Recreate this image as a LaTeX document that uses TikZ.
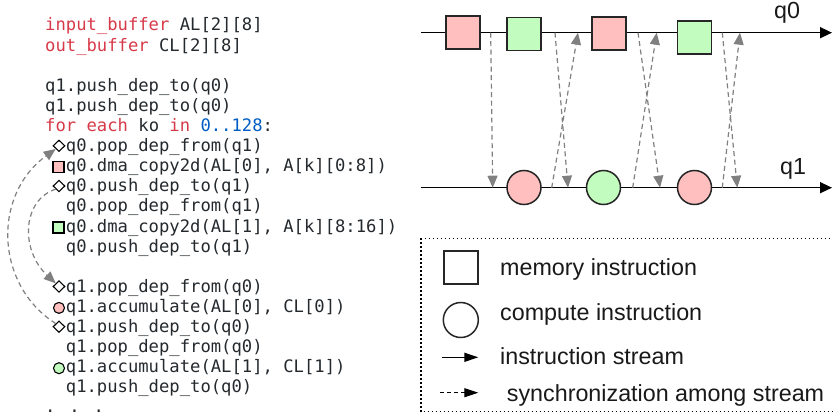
\documentclass[tikz,border=0pt]{standalone}
\usepackage{fontspec}
\setmainfont{Liberation Sans}
\newfontfamily\codefont{DejaVu Sans Mono}
\usetikzlibrary{ arrows.meta
               , positioning
               , shapes.geometric
               }
\definecolor{memPink}{RGB}{255,191,191}
\definecolor{memGreen}{RGB}{194,252,190}
\definecolor{kwRed}{RGB}{215,58,73}
\definecolor{numBlue}{RGB}{0,92,197}
\definecolor{codeInk}{RGB}{36,41,46}
\definecolor{syncGray}{RGB}{128,128,128}

\begin{document}
\begin{tikzpicture}
      [ x=1pt, y=-1pt
      , code/.style={anchor=base west, inner sep=0pt, text=codeInk, font=\codefont\fontsize{17.2}{20}\selectfont}
      , txt/.style={inner sep=0pt, text=black!90, font=\fontsize{23.3}{28}\selectfont}
      , stream/.style={black, draw, line width=1.5pt, -{Triangle[length=12pt, width=11pt]}}
      , sync/.style={syncGray, draw, line width=1.2pt, dash pattern=on 5pt off 3.5pt, -{Triangle[length=12pt, width=10pt]}}
      , mem/.style={draw=black!85, line width=1.5pt, minimum width=34pt, minimum height=33pt, inner sep=0pt}
      , comp/.style={circle, draw=black!85, line width=1.5pt, minimum size=34pt, inner sep=0pt}
      , tag/.style={diamond, draw=black, line width=1.1pt, minimum width=12pt, minimum height=11.5pt, inner sep=0pt}
      , smem/.style={draw=black, line width=1.1pt, minimum size=11pt, inner sep=0pt}
      , scomp/.style={circle, draw=black, line width=1.1pt, minimum size=11pt, inner sep=0pt}
      ]
    \useasboundingbox (0,0) rectangle (833,417);

    \node[code] (l1)  at (45,31.0)  {\textcolor{kwRed}{input\_buffer} AL[2][8]};
    \node[code] (l2)  at (45,51.1)  {\textcolor{kwRed}{out\_buffer} CL[2][8]};
    \node[code] (l4)  at (45,91.3)  {q1.push\_dep\_to(q0)};
    \node[code] (l5)  at (45,111.4) {q1.push\_dep\_to(q0)};
    \node[code] (l6)  at (45,131.5) {\textcolor{kwRed}{for each} ko \textcolor{kwRed}{in} \textcolor{numBlue}{0..128}:};
    \node[code] (l7)  at (65.7,151.6) {q0.pop\_dep\_from(q1)};
    \node[code] (l8)  at (65.7,171.7) {q0.dma\_copy2d(AL[0], A[k][0:8])};
    \node[code] (l9)  at (65.7,191.8) {q0.push\_dep\_to(q1)};
    \node[code] (l10) at (65.7,211.9) {q0.pop\_dep\_from(q1)};
    \node[code] (l11) at (65.7,232.0) {q0.dma\_copy2d(AL[1], A[k][8:16])};
    \node[code] (l12) at (65.7,252.1) {q0.push\_dep\_to(q1)};
    \node[code] (l14) at (65.7,292.3) {q1.pop\_dep\_from(q0)};
    \node[code] (l15) at (65.7,312.4) {q1.accumulate(AL[0], CL[0])};
    \node[code] (l16) at (65.7,332.5) {q1.push\_dep\_to(q0)};
    \node[code] (l17) at (65.7,352.6) {q1.pop\_dep\_from(q0)};
    \node[code] (l18) at (65.7,372.7) {q1.accumulate(AL[1], CL[1])};
    \node[code] (l19) at (65.7,392.8) {q1.push\_dep\_to(q0)};
    \node[code] (l20) at (45,412.9) {. . .};

    \node[tag] (t1) at (59,145.8) {};
    \node[tag] (t2) at (59,186.0) {};
    \node[tag] (t3) at (59,286.5) {};
    \node[tag] (t4) at (59,326.7) {};
    \node[smem, fill=memPink] (s1) at (58.5,167.2) {};
    \node[smem, fill=memGreen] (s2) at (58.5,227.5) {};
    \node[scomp, fill=memPink] (o1) at (59,307.9) {};
    \node[scomp, fill=memGreen] (o2) at (59,368.2) {};

    \draw[sync] (t4.north west) .. controls (-5,285) and (-8,195) .. (t1.south west);
    \draw[sync] (t2.south west) .. controls (22,200) and (20,250) .. (t3.north west);

    \coordinate (q0s) at (421,32.7);
    \coordinate (q0e) at (832,32.7);
    \coordinate (q1s) at (421,187.7);
    \coordinate (q1e) at (832,187.7);
    \draw[stream] (q0s) -- (q0e);
    \draw[stream] (q1s) -- (q1e);
    \node[txt] (q0) at (787,13) {q0};
    \node[txt] (q1) at (793,169) {q1};

    \node[mem, fill=memPink] (m1) at (463,32.5) {};
    \node[mem, fill=memGreen] (m2) at (524,34) {};
    \node[mem, fill=memPink] (m3) at (609,33.5) {};
    \node[mem, fill=memGreen] (m4) at (694.5,37.5) {};
    \node[comp, fill=memPink] (c1) at (524,187.5) {};
    \node[comp, fill=memGreen] (c2) at (603.5,187.5) {};
    \node[comp, fill=memPink] (c3) at (694.5,187.5) {};

    \foreach \i/\a/\b in {1/490.7/492.7, 2/555/568, 3/638/660, 4/722.3/737.3}
    {
      \coordinate (dn\i) at (\a,32.7);
      \coordinate (dm\i) at (\b,187.7);
      \draw[sync] (dn\i) -- (dm\i);
    }
    \foreach \i/\a/\b in {1/551.7/578, 2/632.7/656.7, 3/722.3/740}
    {
      \coordinate (up\i) at (\a,187.7);
      \coordinate (uq\i) at (\b,32.7);
      \draw[sync] (up\i) -- (uq\i);
    }

    \draw[line width=1.3pt, dash pattern=on 1.3pt off 2.7pt] (421,238.3) rectangle (836,411.7);
    \node[mem, fill=white] (lm) at (460.8,267.7) {};
    \node[comp, minimum size=35pt] (lc) at (460.8,320) {};
    \coordinate (ls0) at (441.7,357.3);
    \coordinate (ls1) at (478.3,357.3);
    \draw[stream, -{Triangle[length=14pt, width=9pt]}] (ls0) -- (ls1);
    \coordinate (ly0) at (440,392.7);
    \coordinate (ly1) at (478.3,392.7);
    \draw[sync, black, line width=1pt, dash pattern=on 4pt off 3pt, -{Triangle[length=14pt, width=9pt]}] (ly0) -- (ly1);
    \node[txt, anchor=base west] (lmt) at (500,275) {memory instruction};
    \node[txt, anchor=base west] (lct) at (500,320.5) {compute instruction};
    \node[txt, anchor=base west] (lst) at (500,364) {instruction stream};
    \node[txt, anchor=base west] (lyt) at (506.7,401.7) {synchronization among stream};
\end{tikzpicture}
\end{document}
